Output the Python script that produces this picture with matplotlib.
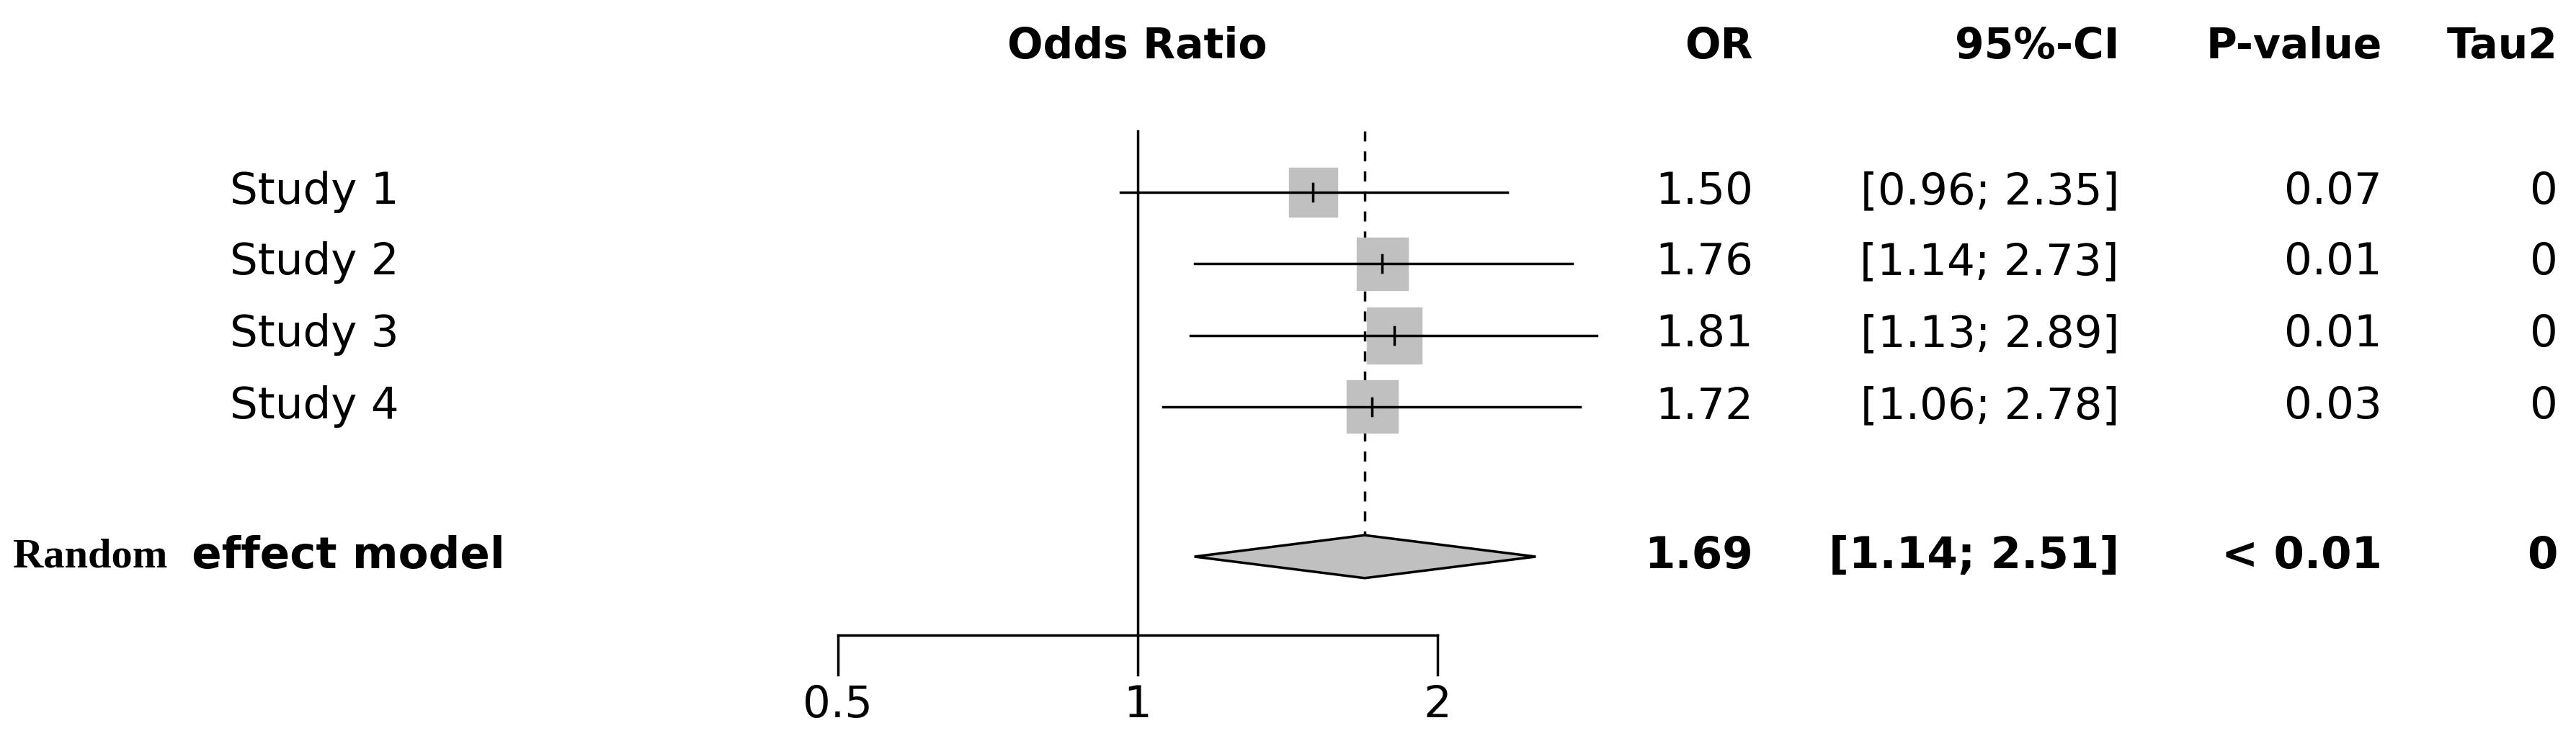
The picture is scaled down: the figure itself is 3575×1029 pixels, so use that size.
import matplotlib.pyplot as plt
import numpy as np

studies = ['Study 1', 'Study 2', 'Study 3', 'Study 4']
odds = [1.50, 1.76, 1.81, 1.72]
lower = [0.96, 1.14, 1.13, 1.06]
upper = [2.35, 2.73, 2.89, 2.78]
pvals = ['0.07', '0.01', '0.01', '0.03']
tau2 = ['0', '0', '0', '0']
weights = [0.86, 0.92, 0.98, 0.92]  # relative square size
pooled = 1.69
pooled_lo = 1.14
pooled_hi = 2.51
pooled_p = '< 0.01'
pooled_tau = '0'
ticks = [0.5, 1, 2]

W, H = 3575, 1029
fig = plt.figure(figsize=(W / 100, H / 100), dpi=100)

# pixel-space axes for text
tx = fig.add_axes([0, 0, 1, 1])
tx.set_xlim(0, W)
tx.set_ylim(H, 0)
tx.axis('off')

# forest plot axes: x 1163..1995 px, y 182..882 px
x0, x1, y0, y1 = 1163, 1995, 182, 882
ax = fig.add_axes([x0 / W, 1 - y1 / H, (x1 - x0) / W, (y1 - y0) / H])
ax.set_xscale('log')
ax.set_xlim(0.5, 2)
row_px = 99.3
ax.set_ylim((y1 - 267) / row_px + 1, (y0 - 267) / row_px + 1)
ax.axis('off')

ypos = [1, 2, 3, 4]
ysum = (773 - 267) / row_px + 1
yaxis = (882 - 267) / row_px + 1

ax.plot([1, 1], [ax.get_ylim()[1], yaxis], color='black', lw=2.5, clip_on=False)
ax.plot([pooled, pooled], [ax.get_ylim()[1], ysum - 0.3], color='black', lw=2.5,
        ls=(0, (4, 4)), clip_on=False)
for y, o, lo, hi, w in zip(ypos, odds, lower, upper, weights):
    ax.plot([lo, hi], [y, y], color='black', lw=2.5, clip_on=False, zorder=3)
    half = 0.40 * w
    fx = np.exp(np.log(2) / 418 * 39 * w)
    ax.fill([o / fx, o * fx, o * fx, o / fx], [y - half, y - half, y + half, y + half],
            color='#c0c0c0', zorder=2, clip_on=False)
    ax.plot([o, o], [y - 0.12, y + 0.12], color='black', lw=2.5, zorder=4, clip_on=False)

ax.fill([pooled_lo, pooled, pooled_hi, pooled], [ysum, ysum - 0.3, ysum, ysum + 0.3],
        facecolor='#c0c0c0', edgecolor='black', lw=2.5, clip_on=False)

ax.plot([ticks[0], ticks[-1]], [yaxis, yaxis], color='black', lw=2.5, clip_on=False)
for t in ticks:
    ax.plot([t, t], [yaxis, yaxis + 0.55], color='black', lw=2.5, clip_on=False)
    ax.text(t, (980 - 267) / row_px + 1, f'{t:g}', ha='center', va='center',
            fontsize=44, clip_on=False)

# headers
hy = 64
tx.text(1578, hy, 'Odds Ratio', ha='center', va='center', fontsize=42, fontweight='bold')
tx.text(2433, hy, 'OR', ha='right', va='center', fontsize=42, fontweight='bold')
tx.text(2941, hy, '95%-CI', ha='right', va='center', fontsize=42, fontweight='bold')
tx.text(3306, hy, 'P-value', ha='right', va='center', fontsize=42, fontweight='bold')
tx.text(3550, hy, 'Tau2', ha='right', va='center', fontsize=42, fontweight='bold')

rows_px = [267, 365, 465, 565]
for yp, s, o, lo, hi, p, t in zip(rows_px, studies, odds, lower, upper, pvals, tau2):
    tx.text(319, yp, s, ha='left', va='center', fontsize=44)
    tx.text(2433, yp, f'{o:.2f}', ha='right', va='center', fontsize=44)
    tx.text(2941, yp, f'[{lo:.2f}; {hi:.2f}]', ha='right', va='center', fontsize=44)
    tx.text(3306, yp, p, ha='right', va='center', fontsize=44)
    tx.text(3550, yp, t, ha='right', va='center', fontsize=44)

sy = 773
tx.text(18, sy, 'Random', ha='left', va='center', fontsize=42, fontweight='bold',
        family='Liberation Serif')
tx.text(245, sy, ' effect model', ha='left', va='center', fontsize=44, fontweight='bold')
tx.text(2433, sy, f'{pooled:.2f}', ha='right', va='center', fontsize=44, fontweight='bold')
tx.text(2941, sy, f'[{pooled_lo:.2f}; {pooled_hi:.2f}]', ha='right', va='center',
        fontsize=44, fontweight='bold')
tx.text(3306, sy, pooled_p, ha='right', va='center', fontsize=44, fontweight='bold')
tx.text(3550, sy, pooled_tau, ha='right', va='center', fontsize=44, fontweight='bold')

fig.savefig('out.png', dpi=100)
